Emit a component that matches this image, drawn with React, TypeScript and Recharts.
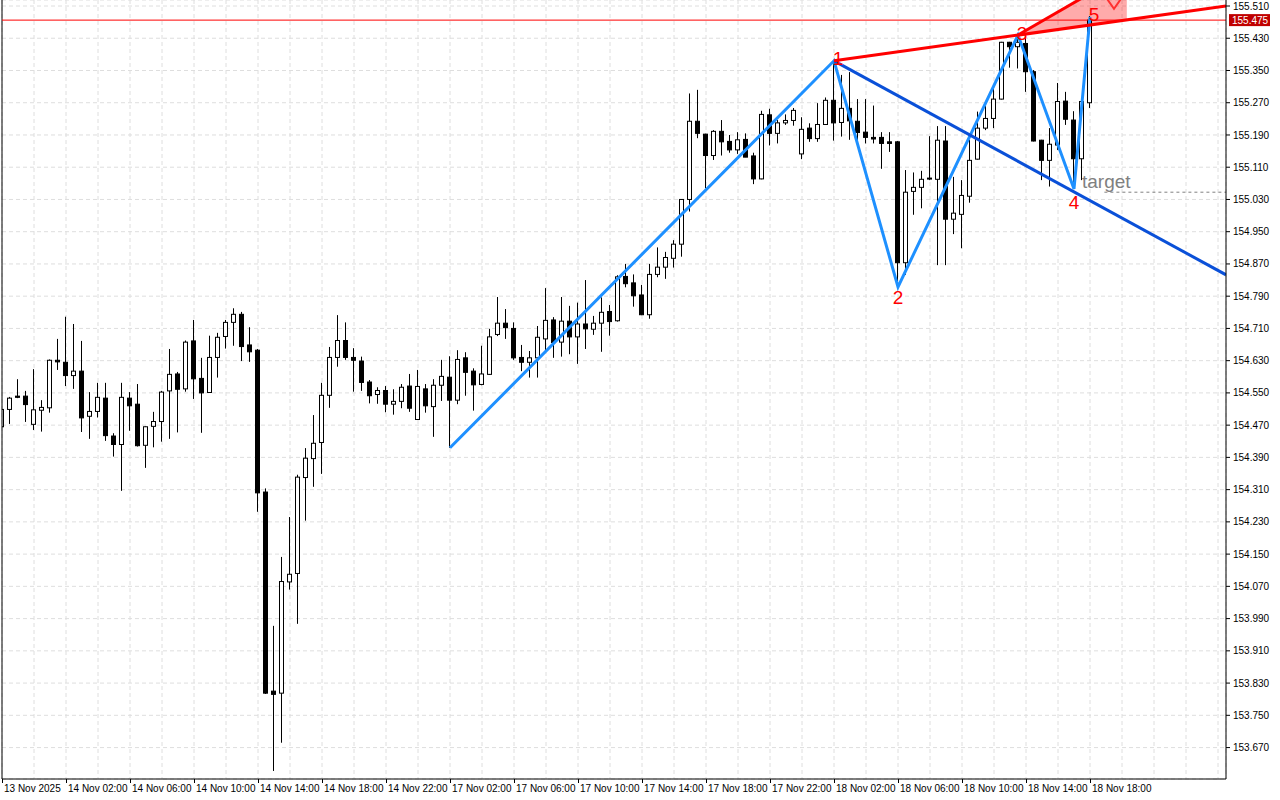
import {
	Area,
	Bar,
	CartesianGrid,
	ComposedChart,
	Line,
	ReferenceDot,
	ReferenceLine,
	XAxis,
	YAxis,
} from "recharts";

// USDJPY-style M30 bars, index 0 = 13 Nov 22:00 ... 136 = 18 Nov 18:00
const opens = [
	154.466, 154.509, 154.542, 154.542, 154.472, 154.507, 154.513, 154.631, 154.626, 154.593,
	154.604, 154.492, 154.504, 154.537, 154.443, 154.422, 154.537, 154.522, 154.42, 154.467,
	154.479, 154.555, 154.597, 154.56, 154.679, 154.586, 154.551, 154.638, 154.69, 154.725,
	154.745, 154.669, 154.656, 154.304, 153.81, 153.805, 154.081, 154.102, 154.34, 154.387,
	154.427, 154.544, 154.638, 154.68, 154.638, 154.629, 154.577, 154.546, 154.556, 154.522,
	154.529, 154.567, 154.484, 154.56, 154.516, 154.569, 154.589, 154.532, 154.637, 154.604,
	154.571, 154.596, 154.695, 154.723, 154.71, 154.638, 154.626, 154.637, 154.684, 154.731,
	154.676, 154.728, 154.689, 154.721, 154.708, 154.723, 154.752, 154.729, 154.839, 154.823,
	154.793, 154.744, 154.844, 154.862, 154.884, 154.919, 155.03, 155.224, 155.192, 155.139,
	155.199, 155.174, 155.153, 155.179, 155.138, 155.081, 155.24, 155.194, 155.22, 155.226,
	155.143, 155.207, 155.181, 155.216, 155.276, 155.221, 155.256, 155.224, 155.197, 155.184,
	155.184, 155.173, 155.173, 154.873, 155.05, 155.06, 155.081, 155.08, 155.175, 154.981,
	154.993, 155.038, 155.13, 155.207, 155.231, 155.279, 155.42, 155.409, 155.417, 155.347,
	155.177, 155.127, 155.165, 155.274, 155.227, 155.131, 155.27,
];
const highs = [
	154.52, 154.54, 154.584, 154.555, 154.609, 154.532, 154.633, 154.684, 154.739, 154.721,
	154.679, 154.552, 154.575, 154.575, 154.45, 154.575, 154.552, 154.572, 154.467, 154.503,
	154.555, 154.659, 154.602, 154.68, 154.731, 154.637, 154.692, 154.699, 154.731, 154.76,
	154.751, 154.713, 154.659, 154.313, 153.972, 154.143, 154.242, 154.347, 154.413, 154.495,
	154.575, 154.664, 154.743, 154.725, 154.661, 154.64, 154.582, 154.564, 154.567, 154.559,
	154.572, 154.597, 154.607, 154.572, 154.584, 154.632, 154.641, 154.656, 154.651, 154.611,
	154.667, 154.709, 154.788, 154.758, 154.725, 154.669, 154.654, 154.716, 154.81, 154.738,
	154.788, 154.766, 154.774, 154.83, 154.741, 154.787, 154.768, 154.842, 154.87, 154.844,
	154.818, 154.87, 154.911, 154.9, 154.929, 155.031, 155.293, 155.302, 155.193, 155.202,
	155.227, 155.19, 155.197, 155.194, 155.146, 155.25, 155.255, 155.227, 155.241, 155.257,
	155.234, 155.219, 155.269, 155.283, 155.374, 155.339, 155.346, 155.279, 155.279, 155.263,
	155.197, 155.197, 155.175, 155.103, 155.097, 155.101, 155.187, 155.212, 155.212, 155.086,
	155.078, 155.178, 155.248, 155.262, 155.31, 155.421, 155.421, 155.438, 155.436, 155.351,
	155.178, 155.207, 155.319, 155.297, 155.249, 155.277, 155.485,
];
const lows = [
	154.463, 154.473, 154.537, 154.478, 154.458, 154.454, 154.501, 154.607, 154.567, 154.56,
	154.453, 154.436, 154.489, 154.431, 154.392, 154.307, 154.456, 154.417, 154.364, 154.415,
	154.429, 154.436, 154.452, 154.553, 154.535, 154.451, 154.55, 154.588, 154.66, 154.667,
	154.629, 154.627, 154.255, 153.803, 153.612, 153.682, 154.062, 153.977, 154.233, 154.317,
	154.349, 154.513, 154.615, 154.632, 154.553, 154.555, 154.524, 154.523, 154.502, 154.496,
	154.512, 154.503, 154.483, 154.501, 154.441, 154.53, 154.414, 154.522, 154.543, 154.506,
	154.569, 154.595, 154.691, 154.684, 154.632, 154.604, 154.588, 154.588, 154.651, 154.637,
	154.64, 154.646, 154.622, 154.659, 154.694, 154.652, 154.692, 154.727, 154.812, 154.764,
	154.743, 154.734, 154.837, 154.833, 154.861, 154.888, 155.0, 155.182, 155.058, 155.128,
	155.139, 155.146, 155.143, 155.135, 155.068, 155.08, 155.164, 155.169, 155.215, 155.213,
	155.13, 155.173, 155.173, 155.215, 155.176, 155.186, 155.178, 155.165, 155.169, 155.169,
	155.106, 155.148, 154.813, 154.843, 154.992, 155.008, 155.078, 154.867, 154.867, 154.944,
	154.909, 155.022, 155.129, 155.202, 155.207, 155.278, 155.357, 155.355, 155.297, 155.174,
	155.078, 155.062, 155.153, 155.215, 155.056, 155.078, 155.257,
];
const closes = [
	154.509, 154.537, 154.539, 154.521, 154.508, 154.514, 154.631, 154.627, 154.593, 154.604,
	154.488, 154.504, 154.539, 154.444, 154.422, 154.539, 154.518, 154.419, 154.466, 154.479,
	154.552, 154.596, 154.559, 154.676, 154.585, 154.55, 154.638, 154.688, 154.725, 154.745,
	154.665, 154.652, 154.302, 153.805, 153.802, 154.082, 154.1, 154.341, 154.388, 154.425,
	154.544, 154.638, 154.68, 154.638, 154.631, 154.576, 154.543, 154.556, 154.522, 154.529,
	154.564, 154.512, 154.566, 154.518, 154.569, 154.591, 154.532, 154.633, 154.601, 154.57,
	154.597, 154.689, 154.723, 154.712, 154.637, 154.626, 154.637, 154.688, 154.73, 154.675,
	154.728, 154.689, 154.721, 154.709, 154.723, 154.75, 154.727, 154.838, 154.821, 154.791,
	154.744, 154.844, 154.862, 154.886, 154.919, 155.03, 155.224, 155.194, 155.139, 155.199,
	155.173, 155.153, 155.178, 155.135, 155.081, 155.241, 155.194, 155.22, 155.226, 155.251,
	155.204, 155.181, 155.216, 155.276, 155.22, 155.256, 155.225, 155.196, 155.184, 155.18,
	155.169, 155.169, 154.873, 155.048, 155.06, 155.08, 155.083, 155.177, 154.981, 154.996,
	155.04, 155.127, 155.207, 155.231, 155.279, 155.42, 155.409, 155.42, 155.347, 155.175,
	155.127, 155.167, 155.273, 155.229, 155.131, 155.273, 155.475,
];

const timeLabels = [
	"13 Nov 2025", "14 Nov 02:00", "14 Nov 06:00", "14 Nov 10:00", "14 Nov 14:00",
	"14 Nov 18:00", "14 Nov 22:00", "17 Nov 02:00", "17 Nov 06:00", "17 Nov 10:00",
	"17 Nov 14:00", "17 Nov 18:00", "17 Nov 22:00", "18 Nov 02:00", "18 Nov 06:00",
	"18 Nov 10:00", "18 Nov 14:00", "18 Nov 18:00",
];

const priceTicks = [
	155.51, 155.43, 155.35, 155.27, 155.19, 155.11, 155.03, 154.95, 154.87, 154.79,
	154.71, 154.63, 154.55, 154.47, 154.39, 154.31, 154.23, 154.15, 154.07, 153.99,
	153.91, 153.83, 153.75, 153.67,
];

// wave pivots (bar index, price)
const pivots = [
	{ label: "", x: 56, y: 154.414 },
	{ label: "1", x: 104, y: 155.374 },
	{ label: "2", x: 112, y: 154.813 },
	{ label: "3", x: 127, y: 155.438 },
	{ label: "4", x: 134, y: 155.056 },
	{ label: "5", x: 136, y: 155.483 },
];
const line13 = [
	{ x: 104, y: 155.374 },
	{ x: 153, y: 155.51 },
];
const line14 = [
	{ x: 104, y: 155.374 },
	{ x: 153, y: 154.843 },
];
const zoneEdge = [
	{ x: 127, y: 155.438 },
	{ x: 140.6, y: 155.594 },
];
const zoneBand = [
	{ x: 127, band: [155.438, 155.438] },
	{ x: 140.6, band: [155.476, 155.594] },
];
const bidPrice = 155.475;
const targetPrice = 155.048;
const targetStart = 137.8;
const arrowMark = { x: 139, y: 155.503 };

const candles = opens.map((o, i) => ({
	x: i,
	o,
	h: highs[i],
	l: lows[i],
	c: closes[i],
	range: [lows[i], highs[i]],
}));

const xTicks = Array.from({ length: 39 }, (_, k) => k * 4);

const FONT = "'Liberation Sans', Arial, sans-serif";

function Candle(props: any) {
	const { x, y, width, height, payload } = props;
	if (x == null || y == null || !payload) return <g />;
	const { o, h, l, c } = payload;
	const cx = Math.round(x + width / 2);
	const span = h - l || 1;
	const py = (p: number) => y + ((h - p) / span) * height;
	const top = py(Math.max(o, c));
	const bot = py(Math.min(o, c));
	const up = c >= o;
	return (
		<g>
			<line x1={cx - 0.5} x2={cx - 0.5} y1={y} y2={y + height} stroke="#000" strokeWidth={1} />
			<rect
				x={cx - 2.5}
				y={top}
				width={4}
				height={Math.max(bot - top, 1)}
				fill={up ? "#fff" : "#000"}
				stroke="#000"
				strokeWidth={1}
			/>
		</g>
	);
}

function TimeTick(props: any) {
	const { x, y, payload } = props;
	const v = payload.value as number;
	const label = v % 8 === 0 ? timeLabels[v / 8] : undefined;
	if (!label) return <g />;
	const lx = Math.round(x) + 0.5;
	return (
		<g>
			<line x1={lx} x2={lx} y1={y - 4} y2={y} stroke="#000" />
			<text x={lx + 1.5} y={y + 9} fontSize={10} fill="#000" fontFamily={FONT}>
				{label}
			</text>
		</g>
	);
}

function PriceTag(props: any) {
	const vb = props.viewBox;
	if (!vb) return null;
	const left = vb.x + vb.width + 3;
	return (
		<g>
			<rect x={left} y={vb.y - 6} width={41} height={12} fill="#c00000" />
			<text x={left + 3} y={vb.y + 4} fontSize={10} fill="#fff" fontFamily={FONT}>
				{bidPrice.toFixed(3)}
			</text>
		</g>
	);
}

function pivotLabel(label: string) {
	return (p: any) => {
		if (!label) return <g />;
		const low = label === "2" || label === "4";
		return (
			<text
				x={p.cx + (low ? 0 : 4)}
				y={p.cy + (low ? (label === "2" ? 11 : 14) : -2)}
				fontSize={19}
				fill="#ff0000"
				textAnchor="middle"
				dominantBaseline="central"
				fontFamily={FONT}
			>
				{label}
			</text>
		);
	};
}

export default function App() {
	return (
		<div style={{ width: 1280, height: 800, background: "#fff", fontFamily: FONT }}>
			<style>{"body{margin:0}"}</style>
			<ComposedChart
				width={1280}
				height={800}
				data={candles}
				margin={{ top: 0, right: 0, bottom: 0, left: 2 }}
			>
				<CartesianGrid stroke="#dedede" strokeDasharray="4 3" />
				<XAxis
					type="number"
					dataKey="x"
					domain={[0, 153]}
					ticks={xTicks}
					interval={0}
					allowDataOverflow
					height={21}
					tickSize={4}
					tickMargin={0}
					tickLine={false}
					axisLine={{ stroke: "#000" }}
					tick={<TimeTick />}
				/>
				<YAxis
					orientation="right"
					width={54}
					domain={[153.592, 155.5249]}
					allowDataOverflow
					ticks={priceTicks}
					interval={0}
					tickFormatter={(v: number) => v.toFixed(3)}
					tick={{ fontSize: 10, fill: "#000", fontFamily: FONT }}
					tickSize={4}
					tickMargin={3}
					axisLine={{ stroke: "#000" }}
					tickLine={{ stroke: "#000" }}
				/>
				<ReferenceLine x={0} stroke="#000" />
				<Area
					data={zoneBand}
					dataKey="band"
					type="linear"
					stroke="none"
					fill="#ff0000"
					fillOpacity={0.33}
					isAnimationActive={false}
				/>
				<Bar dataKey="range" barSize={5} shape={<Candle />} isAnimationActive={false} />
				<ReferenceLine y={bidPrice} stroke="#ff0000" strokeWidth={1} label={<PriceTag />} />
				<ReferenceLine
					segment={[
						{ x: targetStart, y: targetPrice },
						{ x: 153, y: targetPrice },
					]}
					stroke="#808080"
					strokeDasharray="3 3"
				/>
				<Line
					data={pivots}
					dataKey="y"
					type="linear"
					stroke="#1e90ff"
					strokeWidth={3}
					dot={false}
					isAnimationActive={false}
				/>
				<Line
					data={line14}
					dataKey="y"
					type="linear"
					stroke="#0a50d8"
					strokeWidth={3}
					dot={false}
					isAnimationActive={false}
				/>
				<Line
					data={line13}
					dataKey="y"
					type="linear"
					stroke="#ff0000"
					strokeWidth={3}
					dot={false}
					isAnimationActive={false}
				/>
				<Line
					data={zoneEdge}
					dataKey="y"
					type="linear"
					stroke="#ff0000"
					strokeWidth={3}
					dot={false}
					isAnimationActive={false}
				/>
				{pivots.map((p) => (
					<ReferenceDot key={p.x} x={p.x} y={p.y} r={0} shape={pivotLabel(p.label)} />
				))}
				<ReferenceDot
					x={134 + 1}
					y={targetPrice}
					r={0}
					shape={(p: any) => (
						<text x={p.cx} y={p.cy - 4} fontSize={19} fill="#808080" fontFamily={FONT}>
							target
						</text>
					)}
				/>
				<ReferenceDot
					x={arrowMark.x}
					y={arrowMark.y}
					r={0}
					shape={(p: any) => (
						<polyline
							points={`${p.cx - 7},${p.cy - 10} ${p.cx},${p.cy} ${p.cx + 7},${p.cy - 10}`}
							fill="none"
							stroke="#ff3030"
							strokeWidth={2}
						/>
					)}
				/>
			</ComposedChart>
		</div>
	);
}
